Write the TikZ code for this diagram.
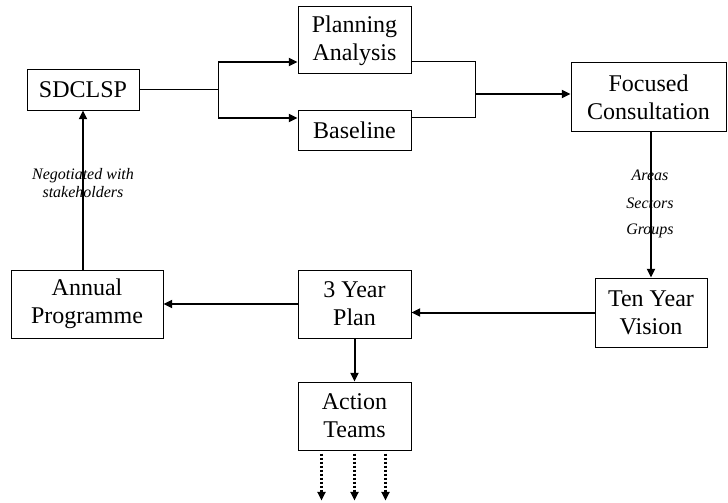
\documentclass[tikz,border=0pt]{standalone}
\usepackage{fontspec}
\setmainfont{Liberation Serif}
\usetikzlibrary{arrows.meta,calc}

\begin{document}
\begin{tikzpicture}[x=0.75pt,y=-0.75pt,
  box/.style={draw,line width=0.75pt,align=center,inner sep=0pt,font=\fontsize{18}{21}\selectfont},
  flow/.style={line width=1.5pt,-{Triangle[length=6.5pt,width=6pt]}},
  link/.style={line width=0.75pt},
  note/.style={align=center,font=\fontsize{12}{14}\selectfont\itshape}]
\useasboundingbox (0,0) rectangle (728,503);
% boxes
\node[box,minimum width=84pt,minimum height=30pt] (sdclsp) at (83,90) {SDCLSP};
\node[box,minimum width=84.75pt,minimum height=50.25pt] (plan) at (354.5,40.5) {Planning\\Analysis};
\node[box,minimum width=84.75pt,minimum height=30pt] (base) at (354.5,130) {Baseline};
\node[box,minimum width=116.25pt,minimum height=51pt] (focus) at (648.5,97) {Focused\\Consultation};
\node[box,minimum width=84pt,minimum height=51.75pt] (tenyr) at (651,312.5) {Ten Year\\Vision};
\node[box,minimum width=84.75pt,minimum height=51pt] (three) at (354.5,304) {3 Year\\Plan};
\node[box,minimum width=114pt,minimum height=51pt] (annual) at (87,304) {Annual\\Programme};
\node[box,minimum width=84.75pt,minimum height=51pt] (action) at (354.5,416) {Action\\Teams};
% split and join
\coordinate (splittop) at (218,62);
\coordinate (splitbot) at (218,118);
\coordinate (jointop) at (475,62);
\coordinate (joinbot) at (475,117);
\coordinate (join) at (475,94);
\draw[link] (sdclsp.east |- 0,90) -- (splittop |- 0,90);
\draw[link] (splittop) -- (splitbot);
\draw[flow] (splittop) -- (splittop -| plan.west);
\draw[flow] (splitbot) -- (splitbot -| base.west);
\draw[link] (plan.east |- jointop) -- (jointop) -- (joinbot) -- (base.east |- joinbot);
\draw[flow] (join) -- (join -| focus.west);
% loop back
\draw[flow] (tenyr.north |- focus.south) -- (tenyr.north);
\draw[flow] (tenyr.west) -- (three.east |- tenyr.west);
\draw[flow] (three.west) -- (annual.east |- three.west);
\draw[flow] (sdclsp.south |- annual.north) -- (sdclsp.south);
\draw[flow] (three.south) -- (action.north);
\foreach \dx in {-33,0,31}
  \draw[flow,line width=2.2pt,dash pattern=on 1.6pt off 1.4pt] ($(action.south)+(\dx,3)$) -- ++(0,47);
% labels
\node[note] (nego) at (83,183) {Negotiated with\\stakeholders};
\foreach \t/\y in {Areas/175,Sectors/203,Groups/231}
  \node[note] (\t) at (650,\y) {\t};
\end{tikzpicture}
\end{document}
